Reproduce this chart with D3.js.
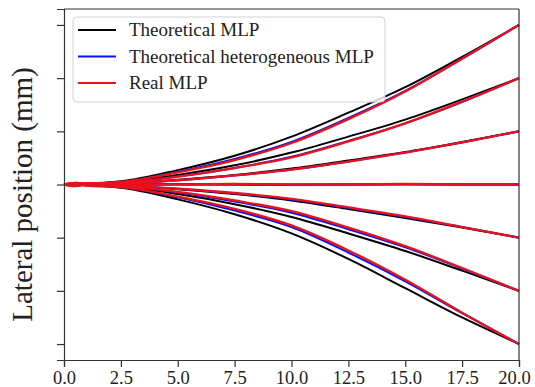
<!DOCTYPE html>
<meta charset="utf-8">
<style>
body { margin: 0; background: #fff; }
.domain, .tick line { stroke: #333; stroke-width: 1.2px; }
.line { fill: none; }
text { font-family: "Liberation Serif", "Times New Roman", serif; }
</style>
<svg width="535" height="387"></svg>
<script src="https://cdn.jsdelivr.net/npm/d3@7"></script>
<script>
// depth along the path (mm)
var depths = [0, 2.5, 5, 7.5, 10, 12.5, 15, 17.5, 20];
var realDepths = [0, 0.5, 1, 2.5, 5, 7.5, 10, 12.5, 15, 17.5, 20];

// theoretical MLP, one row per exit position
var theoretical = [
  [0, 0.06, 0.27, 0.54, 0.90, 1.35, 1.83, 2.40, 3.0],
  [0, 0.04, 0.18, 0.36, 0.60, 0.90, 1.22, 1.60, 2.0],
  [0, 0.02, 0.09, 0.18, 0.30, 0.45, 0.61, 0.80, 1.0],
  [0, 0, 0, 0, 0, 0, 0, 0, 0],
  [0, -0.02, -0.09, -0.18, -0.30, -0.46, -0.63, -0.81, -1.0],
  [0, -0.04, -0.18, -0.37, -0.61, -0.92, -1.25, -1.62, -2.0],
  [0, -0.06, -0.28, -0.56, -0.92, -1.40, -1.95, -2.50, -3.0]
];

var heterogeneous = [
  [0, 0.05, 0.24, 0.48, 0.80, 1.25, 1.76, 2.36, 3.0],
  [0, 0.03, 0.15, 0.31, 0.52, 0.82, 1.15, 1.55, 2.0],
  [0, 0.02, 0.08, 0.17, 0.28, 0.43, 0.60, 0.79, 1.0],
  [0, 0, 0.01, 0, -0.01, 0, 0.01, 0, 0],
  [0, -0.02, -0.08, -0.17, -0.28, -0.44, -0.61, -0.80, -1.0],
  [0, -0.03, -0.15, -0.32, -0.53, -0.84, -1.18, -1.58, -2.0],
  [0, -0.05, -0.24, -0.49, -0.80, -1.28, -1.82, -2.42, -3.0]
];

// measured, on realDepths
var real = [
  [0, 0.03, 0.02, 0.05, 0.23, 0.46, 0.78, 1.23, 1.75, 2.37, 3.0],
  [0, -0.03, 0.01, 0.03, 0.15, 0.31, 0.51, 0.81, 1.15, 1.56, 2.0],
  [0, 0.02, 0.01, 0.02, 0.08, 0.17, 0.28, 0.43, 0.60, 0.79, 1.0],
  [0, 0.01, 0, 0, 0, 0.01, 0, 0, 0.01, 0, 0],
  [0, 0.02, -0.01, -0.02, -0.08, -0.16, -0.27, -0.43, -0.60, -0.80, -1.0],
  [0, -0.02, -0.01, -0.03, -0.14, -0.30, -0.50, -0.81, -1.16, -1.57, -2.0],
  [0, 0.03, -0.02, -0.05, -0.23, -0.46, -0.77, -1.24, -1.79, -2.41, -3.0]
];

var xTicks = [0, 2.5, 5, 7.5, 10, 12.5, 15, 17.5, 20];
var yTicks = [-3, -2, -1, 0, 1, 2, 3];
var legendLabels = ["Theoretical MLP", "Theoretical heterogeneous MLP", "Real MLP"];
var colors = ["#000000", "#0a14f0", "#e8121c"];

var svg = d3.select("svg"),
    margin = {top: 9, right: 16, bottom: 27, left: 64},
    width = 535 - margin.left - margin.right,
    height = 387 - margin.top - margin.bottom,
    g = svg.append("g").attr("transform", "translate(" + margin.left + "," + margin.top + ")");

var x = d3.scaleLinear().domain([0, 20]).range([0, width]);
var y = d3.scaleLinear().domain([-3.3, 3.3]).range([height, 0]);

var line = d3.line()
    .x(function(d) { return x(d[0]); })
    .y(function(d) { return y(d[1]); })
    .curve(d3.curveMonotoneX);

function drawSet(rows, xs, color, w) {
  g.append("g").selectAll("path")
    .data(rows)
    .enter().append("path")
      .attr("class", "line")
      .attr("d", function(r) { return line(r.map(function(v, i) { return [xs[i], v]; })); })
      .style("stroke", color)
      .style("stroke-width", w);
}

drawSet(theoretical, depths, colors[0], 2);
drawSet(heterogeneous, depths, colors[1], 2);
drawSet(real, realDepths, colors[2], 2.3);

var xAxis = g.append("g")
    .attr("transform", "translate(0," + height + ")")
    .call(d3.axisBottom(x).tickValues(xTicks).tickFormat(d3.format(".1f")).tickSize(7).tickPadding(4));
xAxis.selectAll("text")
    .attr("font-size", 18.5)
    .attr("fill", "#222");
// last label pulled in so it stays inside the figure
xAxis.selectAll("text").filter(function(d) { return d === 20; }).attr("dx", "-5");

g.append("g")
    .call(d3.axisLeft(y).tickValues(yTicks).tickFormat("").tickSize(7));

g.append("line").attr("x1", width).attr("x2", width).attr("y1", 0).attr("y2", height)
    .style("stroke", "#333").style("stroke-width", 1.2);
g.append("line").attr("x1", 0).attr("x2", width).attr("y1", 0).attr("y2", 0)
    .style("stroke", "#333").style("stroke-width", 1.2);

svg.append("text")
    .attr("transform", "translate(32," + (margin.top + height / 2 + 10) + ") rotate(-90)")
    .attr("text-anchor", "middle")
    .attr("font-size", 29)
    .attr("fill", "#222")
    .text("Lateral position (mm)");

// legend
var legend = svg.append("g");
legend.append("rect")
    .attr("x", 73).attr("y", 17).attr("width", 312).attr("height", 85)
    .attr("rx", 4)
    .style("fill", "#fff").style("fill-opacity", 0.8)
    .style("stroke", "#d3d3d3").style("stroke-width", 1);

var item = legend.selectAll(".item")
    .data(legendLabels)
    .enter().append("g")
      .attr("transform", function(d, i) { return "translate(0," + (30 + i * 26.5) + ")"; });

item.append("line")
    .attr("x1", 78).attr("x2", 116)
    .style("stroke", function(d, i) { return colors[i]; })
    .style("stroke-width", 2.2);

item.append("text")
    .attr("x", 129)
    .attr("dy", "0.33em")
    .attr("font-size", 19)
    .attr("fill", "#222")
    .text(function(d) { return d; });
</script>
